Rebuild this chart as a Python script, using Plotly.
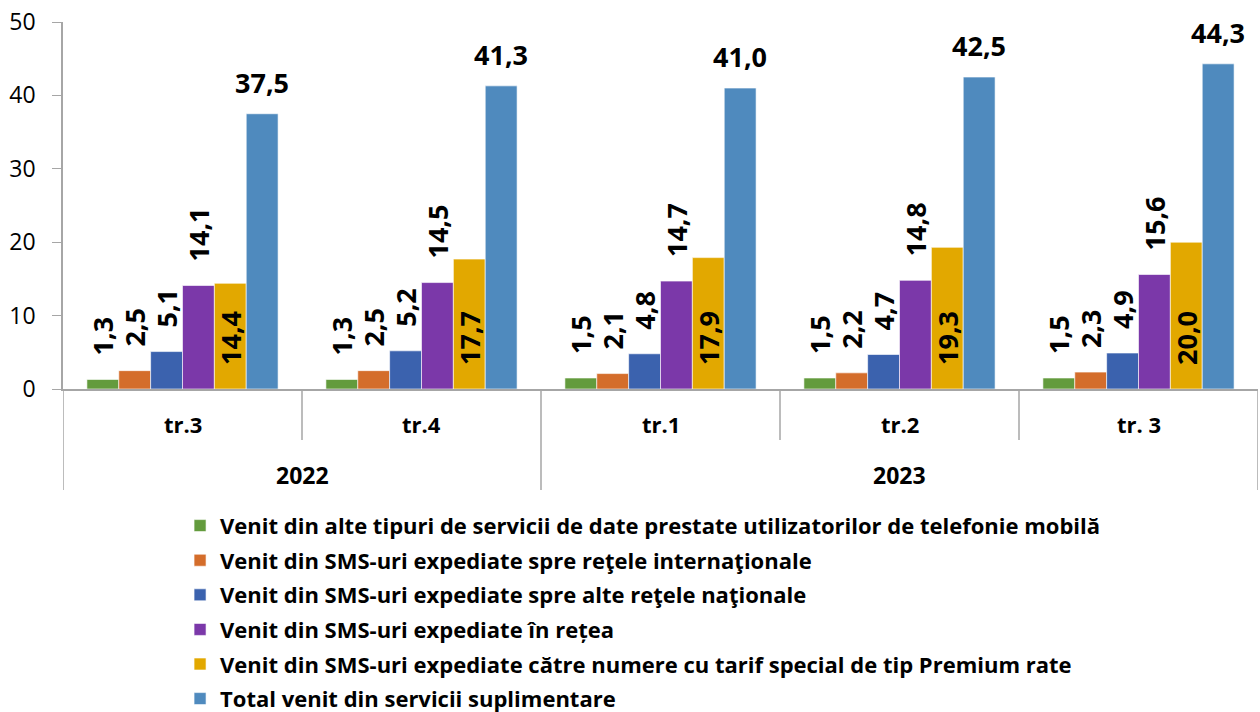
import plotly.graph_objects as go

years = ["2022", "2022", "2023", "2023", "2023"]
quarters = ["tr.3", "tr.4", "tr.1", "tr.2", "tr. 3"]

series_names = [
    "Venit din alte tipuri de servicii de date prestate utilizatorilor de telefonie mobilă",
    "Venit din SMS-uri expediate spre reţele internaţionale",
    "Venit din SMS-uri expediate spre alte reţele naţionale",
    "Venit din SMS-uri expediate în rețea",
    "Venit din SMS-uri expediate către numere cu tarif special de tip Premium rate",
    "Total venit din servicii suplimentare",
]
date_mobile = [1.3, 1.3, 1.5, 1.5, 1.5]
sms_intl = [2.5, 2.5, 2.1, 2.2, 2.3]
sms_nat = [5.1, 5.2, 4.8, 4.7, 4.9]
sms_retea = [14.1, 14.5, 14.7, 14.8, 15.6]
sms_premium = [14.4, 17.7, 17.9, 19.3, 20.0]
total = [37.5, 41.3, 41.0, 42.5, 44.3]

colors = ["#639B3D", "#D46D2B", "#3B62AE", "#7B38A9", "#E2A800", "#4F8ABE"]
values = [date_mobile, sms_intl, sms_nat, sms_retea, sms_premium, total]

FONT = "Open Sans"
AX = "#a6a6a6"
PAD = "\u00a0\u00a0\u00a0"
BARGAP = 0.2
n = len(values)

fig = go.Figure()
for i, (name, vals, col) in enumerate(zip(series_names, values, colors)):
    kw = {}
    if i < n - 1:
        # rotated labels; the premium-rate one sits inside at the base
        kw = dict(texttemplate=PAD + "%{y:.1f}", textangle=-90,
                  textposition="inside" if i == 4 else "outside",
                  insidetextanchor="start", constraintext="none",
                  textfont=dict(family=FONT, size=27, color="black", weight="bold"))
    fig.add_trace(go.Bar(
        x=quarters, y=vals, name=name, cliponaxis=False,
        marker=dict(color=col, line=dict(color="rgba(255,255,255,0.6)", width=1)),
        legendgroup=str(i), **kw,
    ))

# total labels, placed above the last bar of each group
off = -(1 - BARGAP) / 2 + (n - 0.5) * (1 - BARGAP) / n
for i, v in enumerate(total):
    fig.add_annotation(x=i + off, y=v, xref="x", yref="y",
                       text=f"{v:.1f}".replace(".", ","), showarrow=False,
                       yanchor="bottom", yshift=11,
                       font=dict(family=FONT, size=27, color="black", weight="bold"))

# category axis: quarter labels, year labels and divider lines
for i, q in enumerate(quarters):
    fig.add_annotation(x=i, y=-0.095, xref="x", yref="paper", text=q,
                       showarrow=False, yanchor="middle",
                       font=dict(family=FONT, size=22, color="black", weight="bold"))
for yr in sorted(set(years)):
    idx = [i for i, y in enumerate(years) if y == yr]
    fig.add_annotation(x=sum(idx) / len(idx), y=-0.234, xref="x", yref="paper",
                       text=yr, showarrow=False, yanchor="middle",
                       font=dict(family=FONT, size=23, color="black", weight="bold"))
for b in range(len(quarters) + 1):
    outer = b == 0 or b == len(quarters) or years[b] != years[b - 1]
    fig.add_shape(type="line", xref="x", yref="paper", x0=b - 0.5, x1=b - 0.5,
                  y0=0, y1=-0.275 if outer else -0.139,
                  line=dict(color=AX, width=1.5))

fig.update_layout(
    width=1260, height=712,
    barmode="group", bargap=BARGAP, bargroupgap=0,
    separators=", ",
    plot_bgcolor="white", paper_bgcolor="white",
    margin=dict(l=63, r=2, t=22, b=323, autoexpand=False),
    font=dict(family=FONT, size=18, color="black"),
    legend=dict(x=0.1429, y=0.291, xref="container", yref="container",
                xanchor="left", yanchor="top",
                font=dict(family=FONT, size=22, color="black", weight="bold"),
                tracegroupgap=3, itemwidth=30),
    showlegend=True,
)
fig.update_yaxes(range=[0, 50], dtick=10, showgrid=False, showline=True,
                 linecolor=AX, linewidth=1.5, ticks="outside",
                 tickcolor=AX, ticklen=9, ticklabelstandoff=12, automargin=False,
                 tickfont=dict(family=FONT, size=23, color="black"))
fig.update_xaxes(type="category", range=[-0.5, len(quarters) - 0.5],
                 showline=True, linecolor=AX, linewidth=1.5,
                 showticklabels=False, ticks="", automargin=False)

fig.write_html("out.html", config={"displayModeBar": False},
               post_script="document.body.style.margin='0px';")
